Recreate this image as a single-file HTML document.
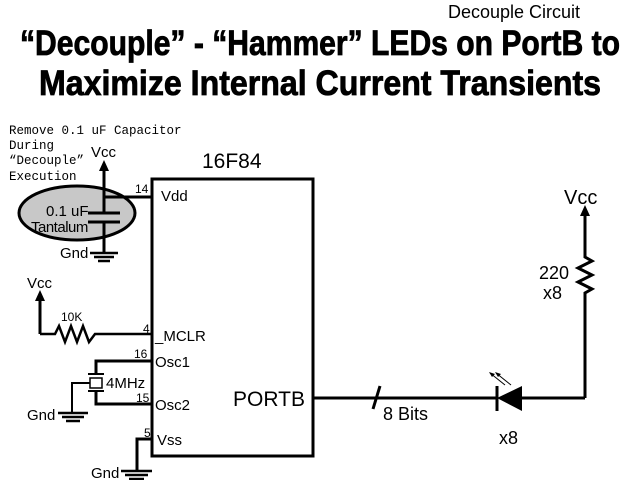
<!DOCTYPE html>
<html><head><style>
body{margin:0;background:#fff;width:640px;height:480px;overflow:hidden}
svg text{font-family:"Liberation Sans",Arial,sans-serif}
</style></head><body>
<svg width="640" height="480" viewBox="0 0 640 480">
<text x="448" y="18" font-size="18">Decouple Circuit</text>
<text x="320" y="55" font-size="35" font-weight="bold" text-anchor="middle" textLength="600" lengthAdjust="spacingAndGlyphs" stroke="#000" stroke-width="0.8">“Decouple” - “Hammer” LEDs on PortB to</text>
<text x="320" y="95" font-size="35" font-weight="bold" text-anchor="middle" textLength="562" lengthAdjust="spacingAndGlyphs" stroke="#000" stroke-width="0.8">Maximize Internal Current Transients</text>
<g font-size="12.5">
<text x="9" y="134" style="font-family:'Liberation Mono',monospace">Remove 0.1 uF Capacitor</text>
<text x="9" y="149" style="font-family:'Liberation Mono',monospace">During</text>
<text x="9" y="164" style="font-family:'Liberation Mono',monospace">“Decouple”</text>
<text x="9" y="180" style="font-family:'Liberation Mono',monospace">Execution</text>
</g>
<ellipse cx="77" cy="213" rx="58" ry="27" fill="#c8c8c8" stroke="#000" stroke-width="3"/>
<g stroke="#000" stroke-width="3" fill="none">
<rect x="152" y="179" width="161" height="277"/>
<line x1="104" y1="168" x2="104" y2="213"/>
<line x1="104" y1="197" x2="152" y2="197"/>
<line x1="88" y1="213" x2="120" y2="213"/>
<line x1="88" y1="222" x2="120" y2="222"/>
<line x1="104" y1="222" x2="104" y2="252"/>
<line x1="40" y1="298" x2="40" y2="334"/>
<polyline points="40,334 55,334 59,326 65,342 71,326 77,342 83,326 89,342 95,334 152,334" stroke-width="2.5"/>
<polyline points="152,361 96,361 96,373"/>
<polyline points="152,404 96,404 96,392"/>
<line x1="88" y1="374" x2="104" y2="374" stroke-width="2"/>
<line x1="88" y1="391" x2="104" y2="391" stroke-width="2"/>
<polyline points="90,383 72,383 72,412" stroke-width="2"/>
<polyline points="152,439 137,439 137,470"/>
<line x1="313" y1="398" x2="497" y2="398"/>
<line x1="522" y1="398" x2="585" y2="398"/>
<polyline points="585,398 585,293 592,289 578,282 592,275 578,268 592,261 585,257 585,213"/>
<line x1="373" y1="409" x2="380" y2="386"/>
<line x1="497" y1="386" x2="497" y2="411"/>
</g>
<rect x="90" y="378" width="12" height="10" fill="#fff" stroke="#000" stroke-width="1.5"/>
<polygon points="497,398 522,386 522,411" fill="#000"/>
<g stroke="#000" stroke-width="1"><line x1="505" y1="385" x2="490" y2="373"/><line x1="511" y1="385" x2="496" y2="373"/></g>
<g fill="#000">
<polygon points="104,160 99,171 109,171"/>
<polygon points="40,290 35,301 45,301"/>
<polygon points="585,205 580,216 590,216"/>
<polygon points="489,372 495,374 492,377"/><polygon points="495,372 501,374 498,377"/>
</g>
<g stroke="#000" stroke-width="2.5">
<line x1="90" y1="253" x2="118" y2="253"/><line x1="94" y1="257" x2="114" y2="257"/><line x1="98" y1="261" x2="110" y2="261"/>
<line x1="58" y1="413" x2="88" y2="413"/><line x1="62" y1="417" x2="84" y2="417"/><line x1="66" y1="421" x2="80" y2="421"/>
<line x1="121" y1="471" x2="152" y2="471"/><line x1="125" y1="475" x2="148" y2="475"/><line x1="129" y1="479" x2="144" y2="479"/>
</g>
<g font-size="15">
<text x="91" y="157">Vcc</text>
<text x="46" y="216">0.1 uF</text>
<text x="31" y="232" letter-spacing="-0.5">Tantalum</text>
<text x="60" y="258">Gnd</text>
<text x="27" y="288">Vcc</text>
<text x="27" y="420">Gnd</text>
<text x="91" y="478">Gnd</text>
<text x="106" y="388">4MHz</text>
<text x="161" y="201">Vdd</text>
<text x="155" y="341">_MCLR</text>
<text x="155" y="367">Osc1</text>
<text x="155" y="410">Osc2</text>
<text x="157" y="445">Vss</text>
</g>
<g font-size="12">
<text x="135" y="193">14</text>
<text x="61" y="321">10K</text>
<text x="143" y="333">4</text>
<text x="134" y="358">16</text>
<text x="136" y="402">15</text>
<text x="144" y="437">5</text>
</g>
<text x="202" y="168" font-size="21">16F84</text>
<text x="233" y="406" font-size="21">PORTB</text>
<text x="383" y="420" font-size="18">8 Bits</text>
<text x="499" y="444" font-size="18">x8</text>
<text x="539" y="279" font-size="18">220</text>
<text x="543" y="299" font-size="18">x8</text>
<text x="564" y="204" font-size="20">Vcc</text>
</svg>
</body></html>
